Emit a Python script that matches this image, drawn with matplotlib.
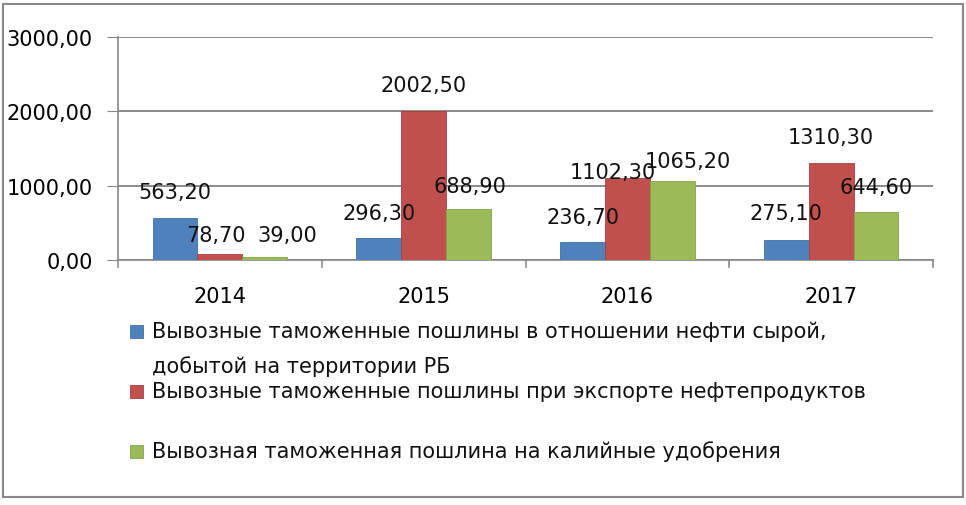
import matplotlib
matplotlib.use("Agg")
import matplotlib.pyplot as plt
from matplotlib.patches import Rectangle
import numpy as np

years = ["2014", "2015", "2016", "2017"]
crude_oil = [563.20, 296.30, 236.70, 275.10]
oil_products = [78.70, 2002.50, 1102.30, 1310.30]
potash = [39.00, 688.90, 1065.20, 644.60]
series_names = [
    "Вывозные таможенные пошлины в отношении нефти сырой,\nдобытой на территории РБ",
    "Вывозные таможенные пошлины при экспорте нефтепродуктов",
    "Вывозная таможенная пошлина на калийные удобрения",
]
y_ticks = [0, 1000, 2000, 3000]

colors = ["#4F81BD", "#C0504D", "#9BBB59"]
edge = ["#3F6FA6", "#A8403D", "#86A348"]

plt.rcParams['font.family'] = ['DejaVu Sans']

W, H = 966, 506
fig = plt.figure(figsize=(W / 100, H / 100), dpi=100)
fig.patch.set_facecolor("white")

# outer border
fig.patches.append(Rectangle((3 / W, 1 - 498 / H), 960 / W, 493 / H, transform=fig.transFigure,
                             fill=False, edgecolor="#888888", linewidth=1.5))

ax = fig.add_axes([118 / W, 1 - 261 / H, (933 - 118) / W, (261 - 38) / H])
x = np.arange(len(years))
bw = 0.22
all_series = [crude_oil, oil_products, potash]
# label offsets in pixels (dx, dy) from bar top centre
label_dx = [[0, 0, 0, 0], [-4, 0, -15, 0], [23, 1, 16, 0]]
label_dy = [[26, 25, 25, 27], [19, 26, 6, 26], [22, 23, 20, 25]]
for i, vals in enumerate(all_series):
    xs = x + (i - 1) * bw
    ax.bar(xs, vals, width=bw, color=colors[i], edgecolor=edge[i], linewidth=0.6, zorder=3)
    for j, (xx, v) in enumerate(zip(xs, vals)):
        ax.annotate(f"{v:.2f}".replace(".", ","), (xx, v),
                    xytext=(label_dx[i][j], label_dy[i][j]),
                    textcoords="offset pixels", ha="center", va="center", fontsize=15,
                    color="#111111", zorder=5)

ax.set_xlim(-0.5, len(years) - 0.5)
ax.set_ylim(0, 3000)
ax.set_yticks(y_ticks)
ax.set_yticklabels([f"{t:.2f}".replace(".", ",") for t in y_ticks], fontsize=15)
ax.set_xticks(x)
ax.set_xticklabels(years, fontsize=15)
ax.tick_params(axis="x", length=0, pad=19)
ax.tick_params(axis="y", length=8, color="#888888", pad=10)
for b in np.arange(-0.5, len(years), 1.0):
    ax.plot([b, b], [0, -0.03], transform=ax.get_xaxis_transform(), color="#888888",
            linewidth=1.2, clip_on=False)
ax.grid(axis="y", color="#777777", linewidth=1.2, zorder=0)
for s in ["top", "right"]:
    ax.spines[s].set_visible(False)
ax.spines["left"].set_color("#888888")
ax.spines["bottom"].set_color("#888888")
ax.spines["left"].set_linewidth(1.2)
ax.spines["bottom"].set_linewidth(1.2)

# legend
rows_y = [332, 392, 452]
line_gap = 35
for i, name in enumerate(series_names):
    yc = rows_y[i]
    fig.patches.append(Rectangle((130 / W, 1 - (yc + 6.5) / H), 13 / W, 13 / H,
                                 transform=fig.transFigure, facecolor=colors[i],
                                 edgecolor=edge[i], linewidth=0.6))
    for k, line in enumerate(name.split("\n")):
        fig.text(152 / W, 1 - (yc + k * line_gap) / H, line, ha="left", va="center",
                 fontsize=15, color="#111111")

fig.savefig("out.png", dpi=100)
